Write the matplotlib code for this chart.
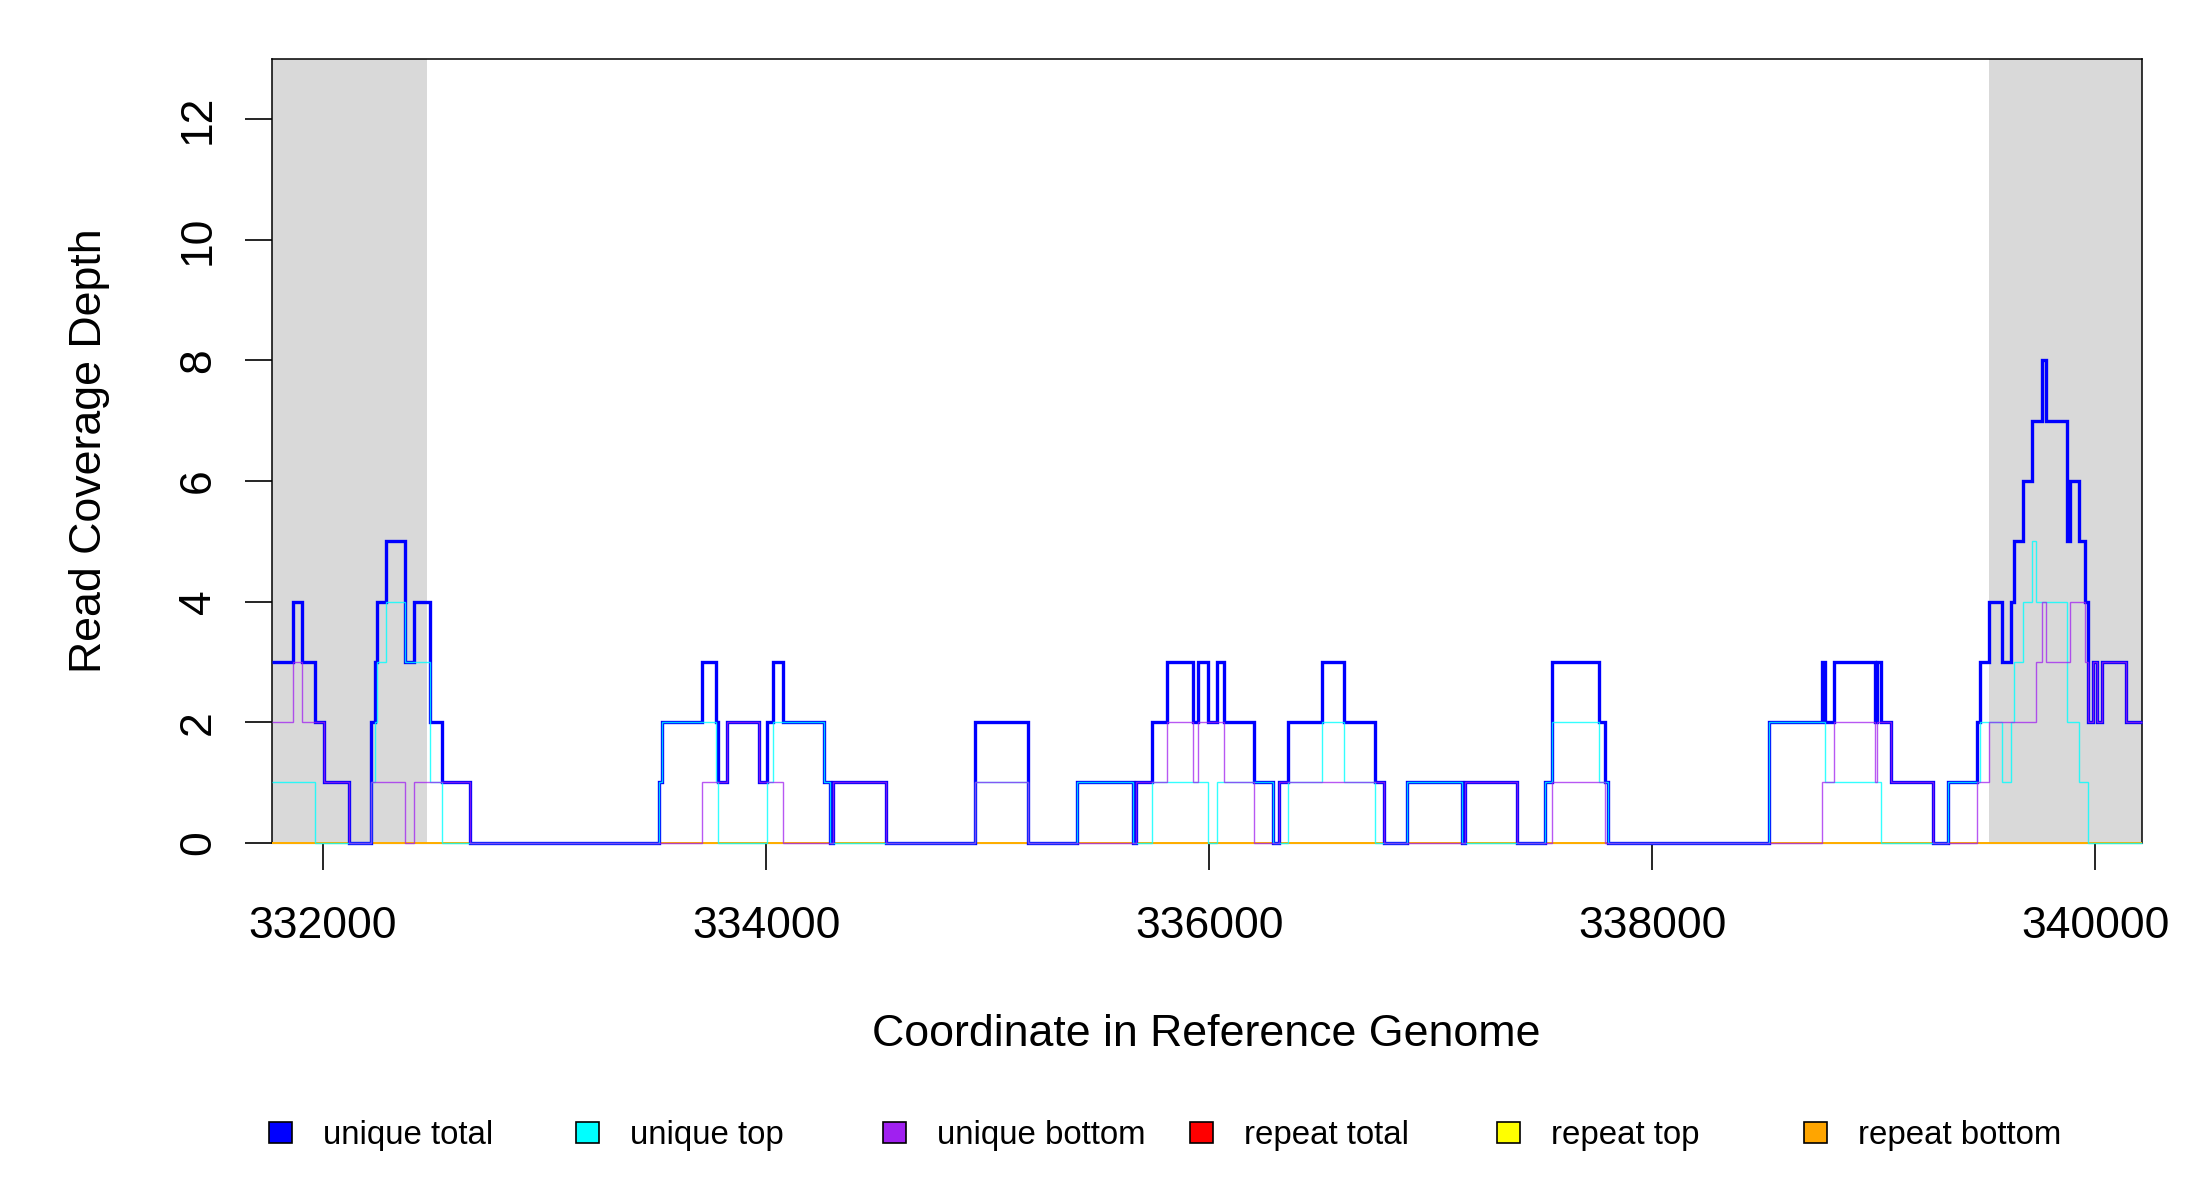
import matplotlib
matplotlib.use("Agg")
import matplotlib.pyplot as plt
from matplotlib.patches import Rectangle

# ---------------- data ----------------
edges = [331768, 331865, 331907, 331962, 332005, 332117, 332215, 332233, 332244, 332284,
         332370, 332411, 332482, 332537, 332662, 333517, 333529, 333711, 333772, 333782,
         333824, 333967, 334005, 334032, 334077, 334261, 334288, 334300, 334539, 334942,
         335183, 335405, 335657, 335669, 335740, 335811, 335925, 335951, 335996, 336034,
         336067, 336202, 336287, 336315, 336357, 336511, 336610, 336750, 336789, 336891,
         337140, 337155, 337391, 337516, 337546, 337760, 337787, 337802, 338527, 338768,
         338780, 338822, 339006, 339016, 339032, 339077, 339269, 339337, 339465, 339480,
         339522, 339578, 339620, 339633, 339675, 339716, 339733, 339759, 339777, 339871,
         339886, 339928, 339955, 339969, 339989, 340007, 340033, 340140, 340210]

unique_total = [3, 4, 3, 2, 1, 0, 2, 3, 4, 5,
                3, 4, 2, 1, 0, 1, 2, 3, 2, 1,
                2, 1, 2, 3, 2, 1, 0, 1, 0, 2,
                0, 1, 0, 1, 2, 3, 2, 3, 2, 3,
                2, 1, 0, 1, 2, 3, 2, 1, 0, 1,
                0, 1, 0, 1, 3, 2, 1, 0, 2, 3,
                2, 3, 2, 3, 2, 1, 0, 1, 2, 3,
                4, 3, 4, 5, 6, 7, 7, 8, 7, 5,
                6, 5, 4, 2, 3, 2, 3, 2]

unique_top = [1, 1, 1, 0, 0, 0, 1, 2, 3, 4,
              3, 3, 1, 0, 0, 1, 2, 2, 1, 0,
              0, 0, 1, 2, 2, 1, 0, 0, 0, 1,
              0, 1, 0, 0, 1, 1, 1, 1, 0, 1,
              1, 1, 0, 0, 1, 2, 1, 0, 0, 1,
              0, 0, 0, 1, 2, 1, 1, 0, 2, 2,
              1, 1, 1, 1, 0, 0, 0, 1, 1, 2,
              2, 1, 2, 3, 4, 5, 4, 4, 4, 2,
              2, 1, 1, 0, 0, 0, 0, 0]

unique_bottom = [2, 3, 2, 2, 1, 0, 1, 1, 1, 1,
                 0, 1, 1, 1, 0, 0, 0, 1, 1, 1,
                 2, 1, 1, 1, 0, 0, 0, 1, 0, 1,
                 0, 0, 0, 1, 1, 2, 1, 2, 2, 2,
                 1, 0, 0, 1, 1, 1, 1, 1, 0, 0,
                 0, 1, 0, 0, 1, 1, 0, 0, 0, 1,
                 1, 2, 1, 2, 2, 1, 0, 0, 1, 1,
                 2, 2, 2, 2, 2, 2, 3, 4, 3, 3,
                 4, 4, 3, 2, 3, 2, 3, 2]

repeat_edges = [331768, 340210]
repeat_total = [0]
repeat_top = [0]
repeat_bottom = [0]

x_limits = [331768, 340210]
shaded_regions = [(331768, 332471), (339521, 340210)]
x_ticks = [332000, 334000, 336000, 338000, 340000]
y_ticks = [0, 2, 4, 6, 8, 10, 12]

legend_labels = ["unique total", "unique top", "unique bottom",
                 "repeat total", "repeat top", "repeat bottom"]
legend_colors = ["#0000FF", "#00FFFF", "#A020F0", "#FF0000", "#FFFF00", "#FFA500"]

# ---------------- figure ----------------
plt.rcParams['font.family'] = ['Liberation Sans', 'DejaVu Sans']
W, H = 2200, 1200
fig = plt.figure(figsize=(22, 12), dpi=100)
ax = fig.add_axes([271.7 / W, 1 - 842.7 / H, (2141.7 - 271.7) / W, (842.7 - 59) / H])
ax.set_xlim(*x_limits)
ax.set_ylim(0, 13)

for (a, b) in shaded_regions:
    ax.axvspan(a, b, color="#D9D9D9", lw=0, zorder=0)

# repeat series (all zero)
for vals, col in zip([repeat_total, repeat_top, repeat_bottom], legend_colors[3:]):
    ax.stairs(vals, repeat_edges, baseline=None, color=col, lw=1.2, zorder=3, clip_on=False)

# unique series
ax.stairs(unique_total, edges, baseline=None, color=legend_colors[0], lw=2.4, zorder=4, clip_on=False)
ax.stairs(unique_top, edges, baseline=None, color=legend_colors[1], lw=1.0, alpha=0.8, zorder=5, clip_on=False)
ax.stairs(unique_bottom, edges, baseline=None, color=legend_colors[2], lw=1.0, alpha=0.75, zorder=6, clip_on=False)

for s in ["left", "top", "right"]:
    ax.spines[s].set_linewidth(1.1)
    ax.spines[s].set_color("black")
ax.spines["bottom"].set_linewidth(0.8)
ax.spines["bottom"].set_color("#555555")

ax.set_xticks(x_ticks)
ax.set_xticklabels([str(t) for t in x_ticks], fontsize=32)
ax.set_yticks(y_ticks)
ax.set_yticklabels([str(t) for t in y_ticks], fontsize=32, rotation=90, va="center")
ax.tick_params(axis="x", length=19.4, width=1.2, pad=26.3, direction="out")
ax.tick_params(axis="y", length=19.4, width=1.2, pad=18.5, direction="out")

fig.text(89.5 / W, 1 - 451 / H, "Read Coverage Depth", rotation=90,
         ha="center", va="center", fontsize=32.2)
fig.text(1206.7 / W, 1 - 1046.5 / H, "Coordinate in Reference Genome",
         ha="center", va="baseline", fontsize=32.2)

# legend row
for i, (lab, col) in enumerate(zip(legend_labels, legend_colors)):
    x0 = 269 + i * 307
    fig.patches.append(Rectangle((x0 / W, 1 - 1143 / H), 23 / W, 21 / H,
                                 transform=fig.transFigure, facecolor=col,
                                 edgecolor="black", lw=1.2))
    fig.text((x0 + 54) / W, 1 - 1144 / H, lab, ha="left", va="baseline", fontsize=23.8)

fig.savefig("out.png", dpi=100)
